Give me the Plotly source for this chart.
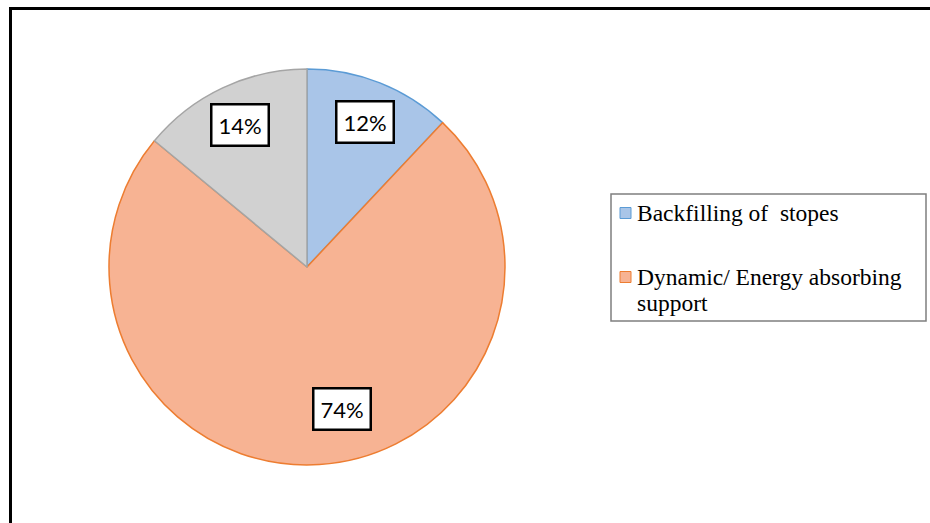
import math
import plotly.graph_objects as go

# Share of responses per support method
categories = ["Backfilling of  stopes", "Dynamic/ Energy absorbing support", "Other"]
values = [12, 74, 14]
legend_lines = [["Backfilling of  stopes"], ["Dynamic/ Energy absorbing", "support"]]

fill_colors = ["#a9c5e8", "#f7b393", "#d1d1d1"]
edge_colors = ["#5b9bd5", "#ed7d31", "#a5a5a5"]

W, H = 930, 523
CX, CY, R = 307, 267, 198          # pie centre and radius, pixels from top-left


def px(x):
    return x / W


def py(y):
    return 1 - y / H


fig = go.Figure()
fig.add_trace(go.Pie(
    labels=categories,
    values=values,
    sort=False,
    direction="clockwise",
    rotation=0,
    textinfo="none",
    hoverinfo="skip",
    showlegend=False,
    marker=dict(colors=fill_colors, line=dict(color=edge_colors, width=1.5)),
    domain=dict(x=[px(CX - R), px(CX + R)], y=[py(CY + R), py(CY - R)]),
))

# Boxed percentage labels placed along each slice's bisector
label_r = [0.79, 0.74, 0.79]
label_turn = [0, -10.4, 0]
total = sum(values)
start = 0.0
annotations = []
for v, rf, turn in zip(values, label_r, label_turn):
    mid = (start + v / 2) / total * 360 + turn
    start += v
    lx = CX + rf * R * math.sin(math.radians(mid))
    ly = CY - rf * R * math.cos(math.radians(mid))
    annotations.append(dict(
        x=px(lx), y=py(ly), xref="paper", yref="paper",
        text=f"{round(v / total * 100)}%", showarrow=False,
        font=dict(family="Lato", size=22, color="black"),
        bgcolor="white", bordercolor="black", borderwidth=2.5, borderpad=6,
        xanchor="center", yanchor="middle",
    ))

# Legend (only the first two categories are listed)
shapes = [
    # outer frame
    dict(type="rect", xref="paper", yref="paper",
         x0=px(10.5), x1=1.05, y0=-0.05, y1=py(8.5),
         line=dict(color="black", width=3), fillcolor="rgba(0,0,0,0)"),
    # legend frame
    dict(type="rect", xref="paper", yref="paper",
         x0=px(611), x1=px(926), y0=py(321), y1=py(194),
         line=dict(color="#7f7f7f", width=1.5), fillcolor="white"),
]
legend_rows = [213, 277]
for i, (lines, row) in enumerate(zip(legend_lines, legend_rows)):
    shapes.append(dict(type="rect", xref="paper", yref="paper",
                       x0=px(620), x1=px(631), y0=py(row + 5.5), y1=py(row - 5.5),
                       line=dict(color=edge_colors[i], width=1), fillcolor=fill_colors[i]))
    for j, line in enumerate(lines):
        annotations.append(dict(
            x=px(635), y=py(row + j * 26), xref="paper", yref="paper",
            text=line, showarrow=False, xanchor="left", yanchor="middle",
            font=dict(family="Liberation Serif", size=23.5, color="black"),
        ))

fig.update_layout(
    width=W, height=H,
    margin=dict(l=0, r=0, t=0, b=0),
    paper_bgcolor="white", plot_bgcolor="white",
    shapes=shapes, annotations=annotations,
)
fig.write_html("out.html")
